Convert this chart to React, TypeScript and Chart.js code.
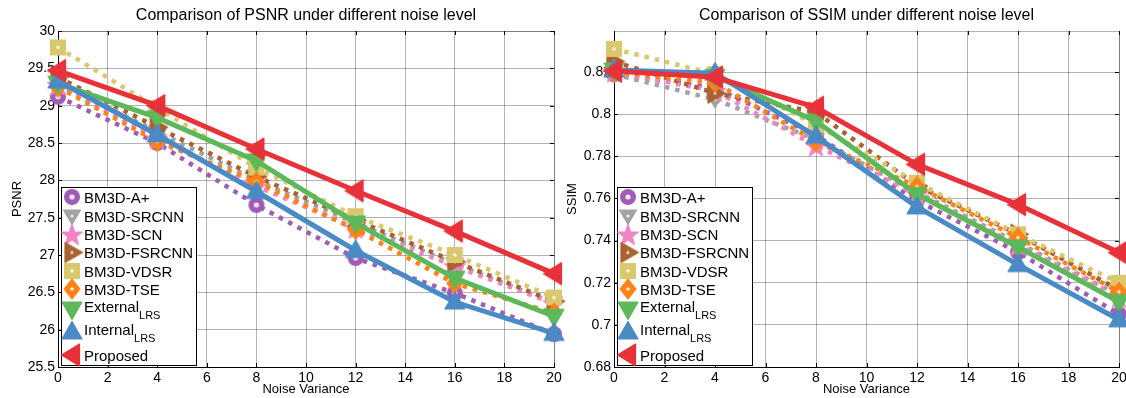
import React, { useEffect, useRef } from "react";
import { Chart, registerables } from "chart.js";

Chart.register(...registerables);

// ---------------- data ----------------
const noiseLevels = [0, 4, 8, 12, 16, 20];
const xTickValues = [0, 2, 4, 6, 8, 10, 12, 14, 16, 18, 20];
const psnrTickValues = [25.5, 26, 26.5, 27, 27.5, 28, 28.5, 29, 29.5, 30];
const ssimTickValues = [0.68, 0.7, 0.72, 0.74, 0.76, 0.78, 0.8, 0.82];

const methodNames = [
  "BM3D-A+",
  "BM3D-SRCNN",
  "BM3D-SCN",
  "BM3D-FSRCNN",
  "BM3D-VDSR",
  "BM3D-TSE",
  "External",
  "Internal",
  "Proposed",
];
const methodSubscripts = ["", "", "", "", "", "", "LRS", "LRS", ""];

const psnrAPlus = [29.12, 28.5, 27.67, 26.96, 26.49, 25.94];
const psnrSRCNN = [29.3, 28.65, 28.0, 27.43, 26.88, 26.36];
const psnrSCN = [29.28, 28.56, 27.92, 27.36, 26.85, 26.35];
const psnrFSRCNN = [29.38, 28.71, 28.05, 27.47, 26.91, 26.38];
const psnrVDSR = [29.78, 28.97, 28.17, 27.52, 27.0, 26.43];
const psnrTSE = [29.25, 28.52, 27.98, 27.34, 26.62, 26.22];
const psnrExternal = [29.3, 28.84, 28.26, 27.43, 26.69, 26.18];
const psnrInternal = [29.33, 28.61, 27.85, 27.06, 26.37, 25.95];
const psnrProposed = [29.47, 29.0, 28.42, 27.86, 27.32, 26.75];

const ssimAPlus = [0.819, 0.8125, 0.79, 0.759, 0.7345, 0.705];
const ssimSRCNN = [0.819, 0.807, 0.788, 0.763, 0.739, 0.714];
const ssimSCN = [0.82, 0.811, 0.785, 0.762, 0.738, 0.713];
const ssimFSRCNN = [0.825, 0.81, 0.801, 0.766, 0.743, 0.7165];
const ssimVDSR = [0.831, 0.819, 0.795, 0.7675, 0.743, 0.72];
const ssimTSE = [0.82, 0.815, 0.787, 0.7657, 0.7414, 0.7157];
const ssimExternal = [0.821, 0.818, 0.7967, 0.762, 0.737, 0.711];
const ssimInternal = [0.821, 0.8195, 0.7895, 0.756, 0.7286, 0.7024];
const ssimProposed = [0.8205, 0.8176, 0.8033, 0.7762, 0.7571, 0.7343];

const psnrSeries = [psnrAPlus, psnrSRCNN, psnrSCN, psnrFSRCNN, psnrVDSR, psnrTSE, psnrExternal, psnrInternal, psnrProposed];
const ssimSeries = [ssimAPlus, ssimSRCNN, ssimSCN, ssimFSRCNN, ssimVDSR, ssimTSE, ssimExternal, ssimInternal, ssimProposed];

// ---------------- styles ----------------
const FONT = "'Liberation Sans', Arial, Helvetica, sans-serif";
const seriesStyles = [
  { color: "#9f5db5", marker: "circle", dotted: true },
  { color: "#a3a3a3", marker: "triDownSmall", dotted: true },
  { color: "#f184c4", marker: "star", dotted: true },
  { color: "#aa6232", marker: "triRight", dotted: true },
  { color: "#dac86f", marker: "square", dotted: true },
  { color: "#ff8216", marker: "diamond", dotted: true },
  { color: "#5db85a", marker: "triDown", dotted: false },
  { color: "#4a8ac5", marker: "triUp", dotted: false },
  { color: "#e8323a", marker: "triLeft", dotted: false },
];

const MARKER_SIZE = 28;
const CANVAS_W = 590;
const CANVAS_H = 398;

function makeMarker(shape: string, color: string): HTMLCanvasElement {
  const c = document.createElement("canvas");
  c.width = MARKER_SIZE;
  c.height = MARKER_SIZE;
  const g = c.getContext("2d") as CanvasRenderingContext2D;
  const m = MARKER_SIZE / 2;
  g.fillStyle = color;
  g.strokeStyle = color;
  g.lineJoin = "round";
  g.lineWidth = 1.2;
  const poly = (pts: number[][]) => {
    g.beginPath();
    pts.forEach(([x, y], i) => (i ? g.lineTo(m + x, m + y) : g.moveTo(m + x, m + y)));
    g.closePath();
    g.fill();
    g.stroke();
  };
  const hole = (r: number) => {
    g.fillStyle = "rgba(255,255,255,0.85)";
    g.beginPath();
    g.arc(m, m, r, 0, Math.PI * 2);
    g.fill();
    g.fillStyle = color;
  };
  switch (shape) {
    case "circle":
      g.beginPath();
      g.arc(m, m, 8, 0, Math.PI * 2);
      g.fill();
      hole(2.6);
      break;
    case "square":
      poly([[-7.5, -7.5], [7.5, -7.5], [7.5, 7.5], [-7.5, 7.5]]);
      hole(1.8);
      break;
    case "diamond":
      poly([[0, -10], [8, 0], [0, 10], [-8, 0]]);
      hole(1.8);
      break;
    case "star": {
      const pts: number[][] = [];
      for (let k = 0; k < 10; k++) {
        const r = k % 2 === 0 ? 11 : 4.4;
        const a = -Math.PI / 2 + (k * Math.PI) / 5;
        pts.push([r * Math.cos(a), r * Math.sin(a) + 1]);
      }
      poly(pts);
      break;
    }
    case "triDownSmall":
      poly([[-8.5, -6], [8.5, -6], [0, 8.5]]);
      hole(1.5);
      break;
    case "triDown":
      poly([[-10, -7], [10, -7], [0, 10.5]]);
      break;
    case "triUp":
      poly([[-10, 7], [10, 7], [0, -10.5]]);
      break;
    case "triRight":
      poly([[-7, -10], [-7, 10], [10.5, 0]]);
      hole(1.5);
      break;
    case "triLeft":
      poly([[7.5, -11], [7.5, 11], [-10.5, 0]]);
      break;
  }
  return c;
}

const legendRowY = [197, 216, 234.5, 252.5, 271, 289, 309, 332, 355];

type PanelCfg = {
  title: string;
  yLabel: string;
  series: number[][];
  yTicks: number[];
  yMin: number;
  yMax: number;
  decimals: number;
  areaLeft: number;
  areaRight: number;
  yLabelX: number;
};

function makePanel(canvas: HTMLCanvasElement, cfg: PanelCfg) {
  const markers = seriesStyles.map((s) => makeMarker(s.marker, s.color));
  const n = seriesStyles.length;

  const overlay = {
    id: "overlay",
    beforeDatasetsDraw(chart: any) {
      const { ctx, chartArea: a, scales } = chart;
      ctx.save();
      ctx.strokeStyle = "rgba(0,0,0,0.3)";
      ctx.lineWidth = 1;
      ctx.beginPath();
      ctx.moveTo(a.left, a.top + 0.5);
      ctx.lineTo(a.right, a.top + 0.5);
      ctx.moveTo(a.right + 0.5, a.top);
      ctx.lineTo(a.right + 0.5, a.bottom);
      ctx.stroke();
      ctx.strokeStyle = "#000";
      ctx.beginPath();
      xTickValues.forEach((v) => {
        const px = Math.round(scales.x.getPixelForValue(v)) + 0.5;
        ctx.moveTo(px, a.bottom);
        ctx.lineTo(px, a.bottom - 4);
        ctx.moveTo(px, a.top);
        ctx.lineTo(px, a.top + 4);
      });
      cfg.yTicks.forEach((v) => {
        const py = Math.round(scales.y.getPixelForValue(v)) + 0.5;
        ctx.moveTo(a.left, py);
        ctx.lineTo(a.left + 4, py);
        ctx.moveTo(a.right, py);
        ctx.lineTo(a.right - 4, py);
      });
      ctx.stroke();
      // x tick labels
      ctx.fillStyle = "#000";
      ctx.font = `14px ${FONT}`;
      ctx.textAlign = "center";
      ctx.textBaseline = "middle";
      xTickValues.forEach((v) => {
        ctx.fillText(String(v), scales.x.getPixelForValue(v), a.bottom + 11);
      });
      ctx.restore();
    },
    afterDraw(chart: any) {
      const { ctx, chartArea: a } = chart;
      ctx.save();
      ctx.fillStyle = "#000";
      ctx.font = `16px ${FONT}`;
      ctx.textAlign = "center";
      ctx.textBaseline = "middle";
      ctx.fillText(cfg.title, (a.left + a.right) / 2, 16);
      ctx.font = `13px ${FONT}`;
      ctx.fillText("Noise Variance", (a.left + a.right) / 2, 389);
      ctx.save();
      ctx.translate(cfg.yLabelX, (a.top + a.bottom) / 2);
      ctx.rotate(-Math.PI / 2);
      ctx.fillText(cfg.yLabel, 0, 0);
      ctx.restore();

      const bx = a.left + 3;
      const by = 187;
      const bw = 135;
      const bh = 178;
      ctx.fillStyle = "#fff";
      ctx.fillRect(bx, by, bw, bh);
      ctx.strokeStyle = "#000";
      ctx.lineWidth = 1;
      ctx.strokeRect(bx + 0.5, by + 0.5, bw, bh);
      ctx.textAlign = "left";
      ctx.textBaseline = "alphabetic";
      methodNames.forEach((name, i) => {
        const ry = legendRowY[i];
        ctx.drawImage(markers[i], bx + 11 - MARKER_SIZE / 2, ry - MARKER_SIZE / 2);
        ctx.fillStyle = "#000";
        ctx.font = `15px ${FONT}`;
        const sub = methodSubscripts[i];
        const base = sub ? ry + 3 : ry + 5.5;
        ctx.fillText(name, bx + 23, base);
        if (sub) {
          const w = ctx.measureText(name).width;
          ctx.font = `11px ${FONT}`;
          ctx.fillText(sub, bx + 23 + w, base + 7);
        }
      });
      ctx.restore();
    },
  };

  const datasets = cfg.series.map((vals, i) => {
    const st = seriesStyles[i];
    return {
      label: methodNames[i],
      data: noiseLevels.map((x, k) => ({ x, y: vals[k] })),
      borderColor: st.color,
      backgroundColor: st.color,
      borderWidth: st.dotted ? 4.5 : 5,
      borderDash: st.dotted ? [4.5, 6] : [],
      borderCapStyle: "butt",
      pointStyle: markers[i],
      pointRadius: 10,
      fill: false,
      tension: 0,
      clip: false,
      order: n - 1 - i,
    };
  });

  const fmt = (v: number) => String(Number(v.toFixed(cfg.decimals)));
  let padRight = CANVAS_W - cfg.areaRight;

  const chart = new Chart(canvas, {
    type: "line",
    data: { datasets } as any,
    plugins: [overlay],
    options: {
      animation: false,
      responsive: false,
      maintainAspectRatio: false,
      events: [],
      layout: { padding: { left: 0, right: padRight, top: 31, bottom: 0 } },
      plugins: {
        legend: { display: false },
        title: { display: false },
        tooltip: { enabled: false },
      },
      scales: {
        x: {
          type: "linear",
          min: 0,
          max: 20,
          afterBuildTicks: (s: any) => {
            s.ticks = xTickValues.map((v) => ({ value: v }));
          },
          afterFit: (s: any) => {
            s.height = 31;
          },
          grid: { color: "rgba(0,0,0,0.3)", lineWidth: 1, drawTicks: false },
          border: { color: "#000", width: 1 },
          ticks: { display: false },
        },
        y: {
          type: "linear",
          min: cfg.yMin,
          max: cfg.yMax,
          afterBuildTicks: (s: any) => {
            s.ticks = cfg.yTicks.map((v) => ({ value: v }));
          },
          afterFit: (s: any) => {
            s.width = cfg.areaLeft;
          },
          grid: { color: "rgba(0,0,0,0.3)", lineWidth: 1, drawTicks: false },
          border: { color: "#000", width: 1 },
          ticks: {
            color: "#000",
            font: { family: FONT, size: 14 },
            padding: 3,
            autoSkip: false,
            callback: (v: any) => fmt(Number(v)),
          },
        },
      },
    } as any,
  });

  // make sure the plot's right edge lands where the reference has it
  for (let k = 0; k < 3; k++) {
    const d = chart.scales.x.getPixelForValue(20) - cfg.areaRight;
    if (Math.abs(d) < 0.3) break;
    padRight = Math.max(0, padRight + d);
    (chart.options as any).layout.padding = { left: 0, right: padRight, top: 31, bottom: 0 };
    chart.update();
  }
  return chart;
}

export default function App() {
  const leftRef = useRef<HTMLCanvasElement>(null);
  const rightRef = useRef<HTMLCanvasElement>(null);

  useEffect(() => {
    const c1 = makePanel(leftRef.current as HTMLCanvasElement, {
      title: "Comparison of PSNR under different noise level",
      yLabel: "PSNR",
      series: psnrSeries,
      yTicks: psnrTickValues,
      yMin: 25.5,
      yMax: 30,
      decimals: 1,
      areaLeft: 58,
      areaRight: 554,
      yLabelX: 17,
    });
    const c2 = makePanel(rightRef.current as HTMLCanvasElement, {
      title: "Comparison of SSIM under different noise level",
      yLabel: "SSIM",
      series: ssimSeries,
      yTicks: ssimTickValues,
      yMin: 0.68,
      yMax: 0.8395,
      decimals: 2,
      areaLeft: 51,
      areaRight: 556,
      yLabelX: 9,
    });
    return () => {
      c1.destroy();
      c2.destroy();
    };
  }, []);

  return (
    <div
      style={{
        position: "fixed",
        left: 0,
        top: 0,
        width: 1126,
        height: 398,
        background: "#fff",
        overflow: "hidden",
      }}
    >
      <canvas
        ref={leftRef}
        width={CANVAS_W}
        height={CANVAS_H}
        style={{ position: "absolute", left: 0, top: 0, width: CANVAS_W, height: CANVAS_H }}
      />
      <canvas
        ref={rightRef}
        width={CANVAS_W}
        height={CANVAS_H}
        style={{ position: "absolute", left: 563, top: 0, width: CANVAS_W, height: CANVAS_H }}
      />
    </div>
  );
}
